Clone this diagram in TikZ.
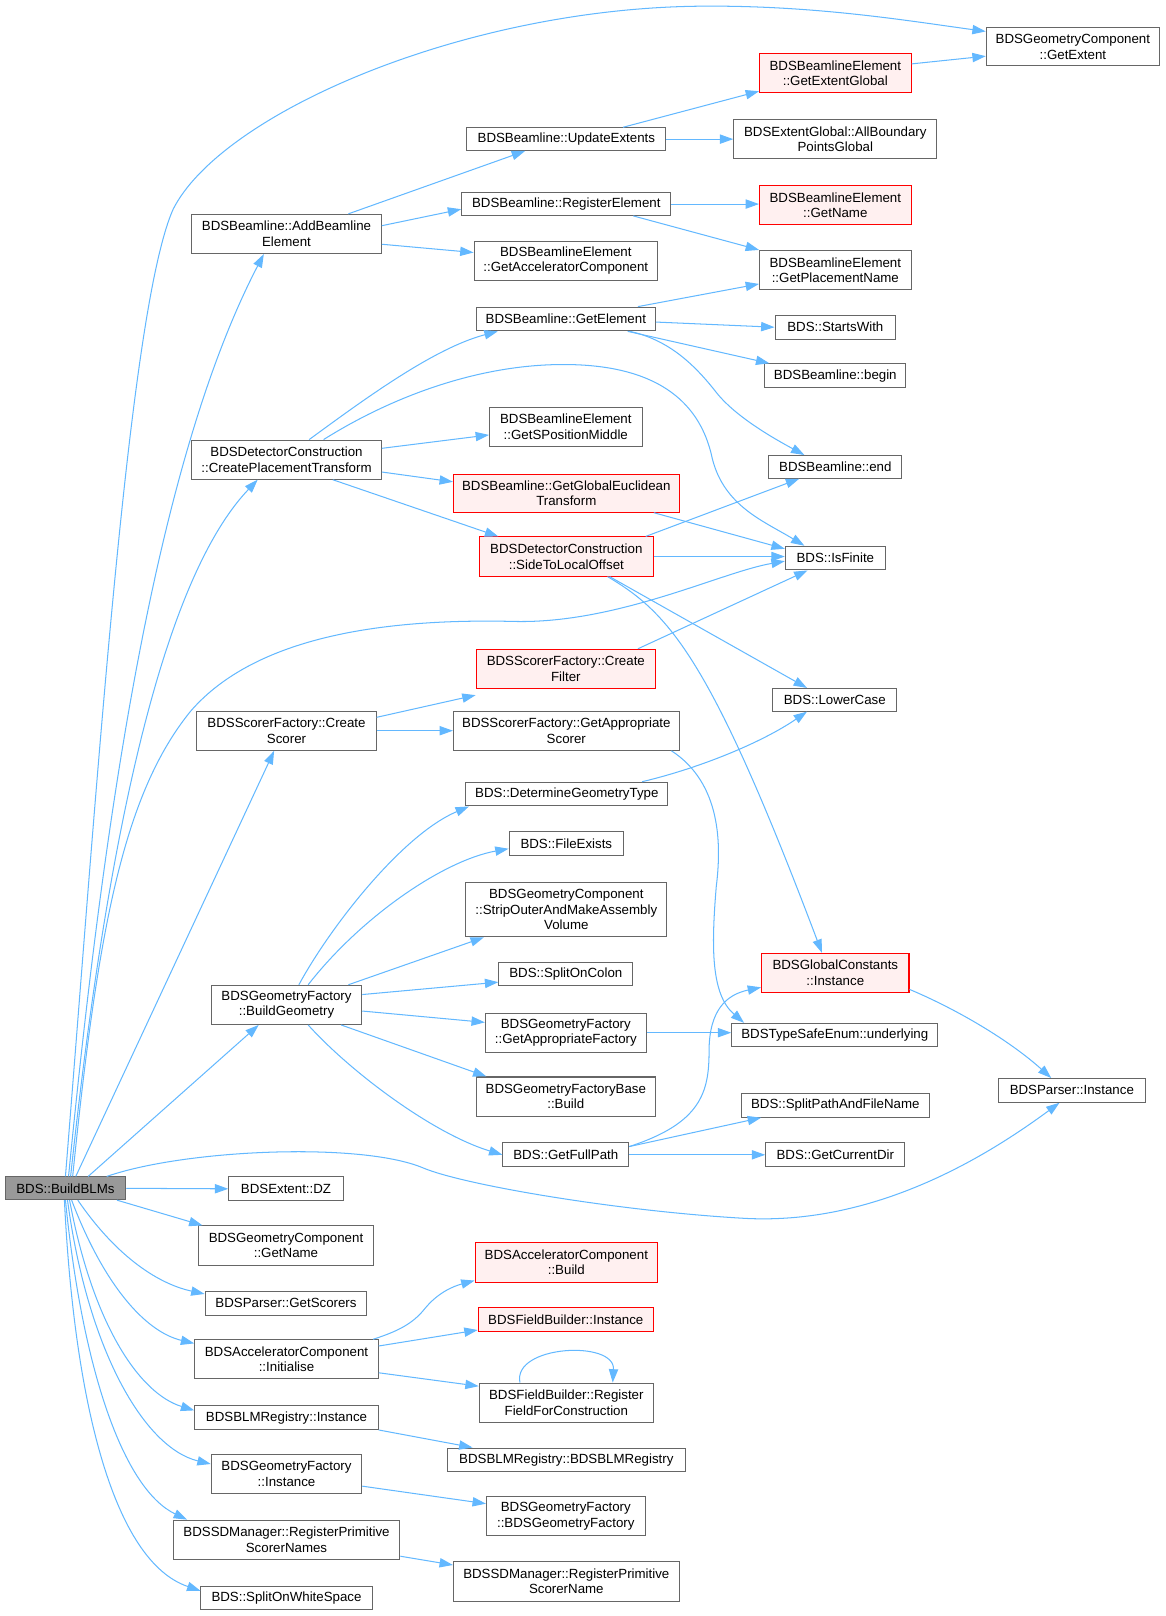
\documentclass[tikz,border=0pt]{standalone}
\usepackage{fontspec}
\setmainfont{Liberation Sans}
\usetikzlibrary{arrows.meta}
\definecolor{edgec}{HTML}{63B8FF}
\definecolor{bordc}{HTML}{666666}
\definecolor{pinkc}{HTML}{FFF0F0}
\definecolor{redc}{HTML}{FF0000}
\definecolor{grayc}{HTML}{999999}
\tikzset{
 box/.style={draw=bordc, fill=white, line width=1pt, font=\fontsize{12.9}{15}\selectfont, align=center, inner sep=0pt},
 redbox/.style={box, draw=redc, fill=pinkc},
 mainbox/.style={box, fill=grayc},
 e/.style={draw=edgec, line width=1pt, -{Triangle[length=13pt,width=9pt]}},
}
\begin{document}
\begin{tikzpicture}[x=1pt,y=-1pt]
\useasboundingbox (0,0) rectangle (1130.4,1568);
% nodes
\node[box, minimum width=168, minimum height=37] (getextent) at (1041,45.5) {BDSGeometryComponent\\::GetExtent};
\node[redbox, minimum width=147, minimum height=38] (getextentglobal) at (810.5,71) {BDSBeamlineElement\\::GetExtentGlobal};
\node[box, minimum width=193, minimum height=22] (updateextents) at (549.5,135) {BDSBeamline::UpdateExtents};
\node[box, minimum width=197, minimum height=38] (allboundary) at (810.5,135) {BDSExtentGlobal::AllBoundary\\PointsGlobal};
\node[box, minimum width=184, minimum height=38] (addbeamline) at (278,227) {BDSBeamline::AddBeamline\\Element};
\node[box, minimum width=203, minimum height=22] (registerelement) at (549.5,198) {BDSBeamline::RegisterElement};
\node[redbox, minimum width=147, minimum height=38] (getname1) at (810.5,199) {BDSBeamlineElement\\::GetName};
\node[box, minimum width=178, minimum height=38] (getacc) at (549,253) {BDSBeamlineElement\\::GetAcceleratorComponent};
\node[box, minimum width=147, minimum height=38] (getplacement) at (810.5,262) {BDSBeamlineElement\\::GetPlacementName};
\node[box, minimum width=174, minimum height=23] (getelement) at (549,309.5) {BDSBeamline::GetElement};
\node[box, minimum width=117, minimum height=23] (startswith) at (810.5,317.5) {BDS::StartsWith};
\node[box, minimum width=137, minimum height=23] (begin) at (810.5,364.5) {BDSBeamline::begin};
\node[box, minimum width=184, minimum height=38] (createplacement) at (278,446) {BDSDetectorConstruction\\::CreatePlacementTransform};
\node[box, minimum width=148, minimum height=38] (getsposition) at (549,414) {BDSBeamlineElement\\::GetSPositionMiddle};
\node[box, minimum width=129, minimum height=22] (end) at (810.5,453) {BDSBeamline::end};
\node[redbox, minimum width=219, minimum height=37] (getglobaleuclid) at (549.5,478.5) {BDSBeamline::GetGlobalEuclidean\\Transform};
\node[redbox, minimum width=169, minimum height=38] (sidetolocal) at (549.5,540) {BDSDetectorConstruction\\::SideToLocalOffset};
\node[box, minimum width=97, minimum height=23] (isfinite) at (810.5,541.5) {BDS::IsFinite};
\node[redbox, minimum width=174, minimum height=38] (createfilter) at (549,649) {BDSScorerFactory::Create\\Filter};
\node[box, minimum width=120, minimum height=22] (lowercase) at (810,679) {BDS::LowerCase};
\node[box, minimum width=174, minimum height=38] (createscorer) at (278,709) {BDSScorerFactory::Create\\Scorer};
\node[box, minimum width=219, minimum height=38] (getapprscorer) at (549.5,709) {BDSScorerFactory::GetAppropriate\\Scorer};
\node[box, minimum width=196, minimum height=23] (determinegeom) at (550,770.5) {BDS::DetermineGeometryType};
\node[box, minimum width=111, minimum height=23] (fileexists) at (549.5,818.5) {BDS::FileExists};
\node[box, minimum width=195, minimum height=53] (stripouter) at (549.5,882.5) {BDSGeometryComponent\\::StripOuterAndMakeAssembly\\Volume};
\node[box, minimum width=130, minimum height=23] (splitoncolon) at (549,945) {BDS::SplitOnColon};
\node[box, minimum width=146, minimum height=38] (buildgeometry) at (278,975) {BDSGeometryFactory\\::BuildGeometry};
\node[box, minimum width=156, minimum height=38] (getapprfactory) at (549,1002) {BDSGeometryFactory\\::GetAppropriateFactory};
\node[redbox, minimum width=143, minimum height=38] (globalconst) at (810.5,944) {BDSGlobalConstants\\::Instance};
\node[box, minimum width=200, minimum height=22] (underlying) at (810,1004) {BDSTypeSafeEnum::underlying};
\node[box, minimum width=142, minimum height=23] (parserinstance) at (1040,1058) {BDSParser::Instance};
\node[box, minimum width=174, minimum height=38] (geomfactorybase) at (549,1064) {BDSGeometryFactoryBase\\::Build};
\node[box, minimum width=183, minimum height=23] (splitpath) at (810.5,1072.5) {BDS::SplitPathAndFileName};
\node[box, minimum width=122, minimum height=23] (getfullpath) at (549,1120.5) {BDS::GetFullPath};
\node[box, minimum width=135, minimum height=23] (getcurrentdir) at (810.5,1120.5) {BDS::GetCurrentDir};
\node[mainbox, minimum width=117, minimum height=22] (buildblms) at (63.5,1153) {BDS::BuildBLMs};
\node[box, minimum width=111, minimum height=23] (dz) at (277.5,1153.5) {BDSExtent::DZ};
\node[box, minimum width=169, minimum height=38] (gcgetname) at (277.5,1208.5) {BDSGeometryComponent\\::GetName};
\node[box, minimum width=157, minimum height=23] (getscorers) at (277.5,1264.5) {BDSParser::GetScorers};
\node[redbox, minimum width=177, minimum height=38] (accbuild) at (549.5,1225) {BDSAcceleratorComponent\\::Build};
\node[redbox, minimum width=170, minimum height=23] (fieldinstance) at (549,1280.5) {BDSFieldBuilder::Instance};
\node[box, minimum width=178, minimum height=38] (accinit) at (278,1319) {BDSAcceleratorComponent\\::Initialise};
\node[box, minimum width=169, minimum height=38] (registerfield) at (549.5,1361) {BDSFieldBuilder::Register\\FieldForConstruction};
\node[box, minimum width=178, minimum height=23] (blmreg) at (278,1375.5) {BDSBLMRegistry::Instance};
\node[box, minimum width=231, minimum height=23] (blmregctor) at (549.5,1416.5) {BDSBLMRegistry::BDSBLMRegistry};
\node[box, minimum width=146, minimum height=38] (gfinstance) at (278,1430) {BDSGeometryFactory\\::Instance};
\node[box, minimum width=154, minimum height=38] (gfctor) at (549,1471) {BDSGeometryFactory\\::BDSGeometryFactory};
\node[box, minimum width=220, minimum height=38] (registerprimnames) at (278,1494) {BDSSDManager::RegisterPrimitive\\ScorerNames};
\node[box, minimum width=219, minimum height=38] (registerprimname) at (549.5,1534.5) {BDSSDManager::RegisterPrimitive\\ScorerName};
\node[box, minimum width=166, minimum height=23] (splitwhite) at (278,1550.5) {BDS::SplitOnWhiteSpace};

% edges from BuildBLMs
\draw[e] (buildblms.north) .. controls (95,750) and (125,300) .. (168,203) .. controls (215,110) and (450,8) .. (680,6) .. controls (790,5) and (880,20) .. ([yshift=-4]getextent.north west);
\draw[e] ([xshift=3]buildblms.north) .. controls (100,800) and (150,450) .. ([xshift=-22]addbeamline.south);
\draw[e] ([xshift=5]buildblms.north) .. controls (105,800) and (160,560) .. ([xshift=-28]createplacement.south);
\draw[e] ([xshift=7]buildblms.north) .. controls (95,900) and (120,770) .. (185,690) .. controls (250,615) and (380,600) .. (500,603) .. controls (600,605) and (700,555) .. ([yshift=-3]isfinite.west);
\draw[e] ([xshift=10]buildblms.north) -- ([xshift=-12]createscorer.south);
\draw[e] ([xshift=22]buildblms.north) -- ([xshift=-27]buildgeometry.south);
\draw[e] ([xshift=40]buildblms.north) .. controls (180,1115) and (350,1108) .. (410,1133) .. controls (450,1150) and (600,1175) .. (720,1182) .. controls (850,1190) and (960,1120) .. ([xshift=-12]parserinstance.south);
\draw[e] (buildblms.east) -- (dz.west);
\draw[e] ([xshift=50]buildblms.south) -- ([xshift=4]gcgetname.north west);
\draw[e] ([xshift=12]buildblms.south) .. controls (110,1215) and (150,1245) .. ([yshift=-3]getscorers.north west);
\draw[e] ([xshift=6]buildblms.south) .. controls (100,1245) and (140,1292) .. ([yshift=-4]accinit.north west);
\draw[e] ([xshift=4]buildblms.south) .. controls (90,1285) and (135,1352) .. ([yshift=-5]blmreg.north west);
\draw[e] ([xshift=2]buildblms.south) .. controls (85,1310) and (140,1405) .. ([yshift=-10]gfinstance.north west);
\draw[e] (buildblms.south) .. controls (80,1330) and (120,1445) .. ([xshift=14]registerprimnames.north west);
\draw[e] ([xshift=-1]buildblms.south) .. controls (72,1360) and (110,1515) .. ([yshift=-5]splitwhite.north west);

% AddBeamlineElement
\draw[e] ([xshift=60]addbeamline.north) -- ([xshift=-40]updateextents.south);
\draw[e] ([yshift=8]addbeamline.east) -- ([yshift=-5]registerelement.west);
\draw[e] ([yshift=-10]addbeamline.east) -- ([yshift=8]getacc.west);
% UpdateExtents
\draw[e] ([xshift=55]updateextents.north) -- ([yshift=2]getextentglobal.south west);
\draw[e] (updateextents.east) -- (allboundary.west);
\draw[e] ([yshift=9]getextentglobal.east) -- ([yshift=-9]getextent.west);
% RegisterElement
\draw[e] (registerelement.east) -- (registerelement.east -| getname1.west);
\draw[e] ([xshift=65]registerelement.south) -- (getplacement.north west);
% GetElement
\draw[e] ([xshift=70]getelement.north) -- ([yshift=6]getplacement.south west);
\draw[e] ([yshift=-3]getelement.east) -- (startswith.west);
\draw[e] ([xshift=60]getelement.south) -- ([xshift=5]begin.north west);
\draw[e] ([xshift=62]getelement.south) .. controls (650,330) and (675,355) .. (696,382) .. controls (715,405) and (750,425) .. ([xshift=-30]end.north);
% CreatePlacementTransform
\draw[e] ([xshift=22]createplacement.north) .. controls (350,390) and (420,338) .. ([xshift=-66]getelement.south);
\draw[e] ([xshift=36]createplacement.north) .. controls (380,385) and (470,350) .. (561,354) .. controls (650,358) and (680,400) .. (690,440) .. controls (700,490) and (740,505) .. ([xshift=-30]isfinite.north);
\draw[e] ([yshift=11]createplacement.east) -- ([yshift=-8]getsposition.west);
\draw[e] ([yshift=-12]createplacement.east) -- ([yshift=11]getglobaleuclid.west);
\draw[e] ([xshift=45]createplacement.south) -- ([xshift=-66]sidetolocal.north);
% GetGlobalEuclideanTransform
\draw[e] ([xshift=85]getglobaleuclid.south) -- ([yshift=-3]isfinite.north west);
% SideToLocalOffset
\draw[e] ([xshift=77]sidetolocal.north) -- ([xshift=-35]end.south);
\draw[e] (sidetolocal.east) -- (sidetolocal.east -| isfinite.west);
\draw[e] ([xshift=42]sidetolocal.south) -- ([xshift=-27]lowercase.north);
\draw[e] ([xshift=40]sidetolocal.south) .. controls (650,595) and (690,640) .. ([xshift=-13]globalconst.north);
% CreateFilter
\draw[e] ([xshift=70]createfilter.north) -- ([xshift=-27]isfinite.south);
% CreateScorer
\draw[e] ([yshift=13]createscorer.east) -- ([yshift=-6]createfilter.south west);
\draw[e] (createscorer.east) -- (getapprscorer.west);
% GetAppropriateScorer
\draw[e] ([xshift=102]getapprscorer.south) .. controls (700,760) and (700,820) .. (695,860) .. controls (690,920) and (690,965) .. ([xshift=-88]underlying.north);
% DetermineGeometryType
\draw[e] ([xshift=73]determinegeom.north) .. controls (680,745) and (740,720) .. ([xshift=-27]lowercase.south);
% BuildGeometry
\draw[e] ([xshift=12]buildgeometry.north) .. controls (320,900) and (390,810) .. ([xshift=-95]determinegeom.south);
\draw[e] ([xshift=21]buildgeometry.north) .. controls (350,890) and (430,835) .. ([yshift=-5]fileexists.west);
\draw[e] ([xshift=60]buildgeometry.north) -- ([xshift=-80]stripouter.south);
\draw[e] ([yshift=10]buildgeometry.east) -- ([yshift=-8]splitoncolon.west);
\draw[e] ([yshift=-6]buildgeometry.east) -- ([yshift=10]getapprfactory.west);
\draw[e] ([xshift=53]buildgeometry.south) -- ([xshift=-77]geomfactorybase.north);
\draw[e] ([xshift=21]buildgeometry.south) .. controls (340,1040) and (420,1100) .. (getfullpath.west);
% GetAppropriateFactory
\draw[e] (getapprfactory.east) -- (getapprfactory.east -| underlying.west);
% GlobalConstants
\draw[e] ([yshift=-16]globalconst.east) .. controls (930,980) and (980,1010) .. ([xshift=-20]parserinstance.north);
% GetFullPath
\draw[e] ([yshift=8]getfullpath.east) .. controls (680,1090) and (688,1060) .. (688,1020) .. controls (688,980) and (705,965) .. ([yshift=-14]globalconst.west);
\draw[e] ([yshift=8]getfullpath.east) -- ([xshift=20]splitpath.south west);
\draw[e] (getfullpath.east) -- (getcurrentdir.west);
% Initialise
\draw[e] ([xshift=84]accinit.north) .. controls (385,1292) and (400,1285) .. (412,1270) .. controls (425,1254) and (440,1248) .. ([yshift=2]accbuild.south west);
\draw[e] ([yshift=13]accinit.east) -- ([yshift=-10]fieldinstance.west);
\draw[e] ([yshift=-13]accinit.east) -- ([yshift=16]registerfield.west);
\draw[e] ([xshift=-45]registerfield.north) .. controls (497,1305) and (597,1300) .. ([xshift=45]registerfield.north);
% others
\draw[e] (blmreg.south east) -- ([xshift=25]blmregctor.north west);
\draw[e] ([yshift=-12]gfinstance.east) -- ([yshift=12]gfctor.west);
\draw[e] ([yshift=-16]registerprimnames.east) -- ([yshift=16]registerprimname.west);
\end{tikzpicture}
\end{document}
